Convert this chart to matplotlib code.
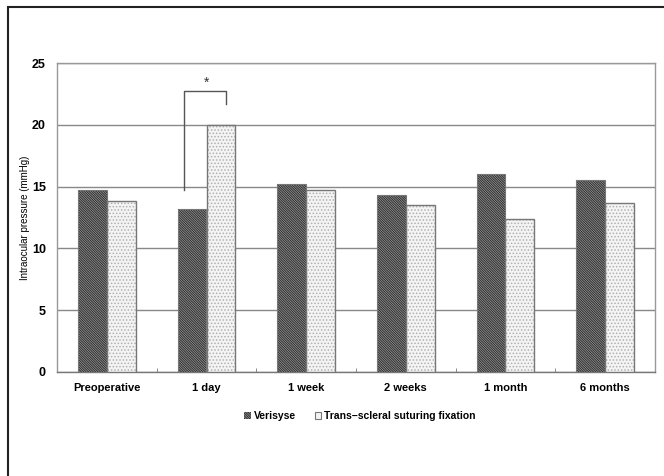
import matplotlib
matplotlib.use("Agg")
import matplotlib.pyplot as plt
import numpy as np
from matplotlib.patches import Rectangle, Patch

categories = ["Preoperative", "1 day", "1 week", "2 weeks", "1 month", "6 months"]
verisyse = [14.7, 13.2, 15.2, 14.3, 16.0, 15.5]
trans_scleral = [13.8, 20.0, 14.7, 13.5, 12.4, 13.7]
series_names = ["Verisyse", "Trans\u2212scleral suturing fixation"]
yticks = [0, 5, 10, 15, 20, 25]

plt.rcParams['font.family'] = ['Liberation Sans', 'DejaVu Sans']
plt.rcParams['hatch.linewidth'] = 0.7

dense = '\\' * 14

fig = plt.figure(figsize=(6.64, 4.76), dpi=100)
# outer frame
fig.patches.append(Rectangle((8/664, -0.1), 1.2, 1 - 7/476 + 0.1, transform=fig.transFigure,
                             fill=False, edgecolor='#222222', linewidth=1.5))

ax = fig.add_axes([57/664, 1 - 372/476, 598/664, (372 - 63)/476])
x = np.arange(len(categories))
w = 0.29

# Verisyse: dense diagonal hatch
ax.bar(x - w/2, verisyse, w, color='#9a9a9a', edgecolor='#2e2e2e', hatch=dense, linewidth=0, zorder=3)
ax.bar(x - w/2, verisyse, w, fill=False, edgecolor='#777777', linewidth=0.8, zorder=4)
# Trans-scleral: dotted
ax.bar(x + w/2, trans_scleral, w, color='#f4f4f4', edgecolor='#b0b0b0', hatch='.....', linewidth=0, zorder=3)
ax.bar(x + w/2, trans_scleral, w, fill=False, edgecolor='#777777', linewidth=1.0, zorder=4)

ax.set_xlim(-0.5, len(categories) - 0.5)
ax.set_ylim(0, 25)
ax.set_yticks(yticks)
ax.set_yticklabels([str(t) for t in yticks], fontweight='bold', fontsize=9)
ax.set_xticks(x)
ax.set_xticklabels(categories, fontweight='bold', fontsize=8)
ax.tick_params(axis='both', length=0, pad=8)
ax.set_xticks(np.arange(0.5, len(categories) - 1, 1), minor=True)
ax.tick_params(axis='x', which='minor', direction='in', length=3, color='#777777')
ax.yaxis.grid(True, color='#888888', linewidth=1.0, zorder=0)
ax.set_axisbelow(True)
for s in ax.spines.values():
    s.set_color('#999999')
    s.set_linewidth(1.0)
ax.spines['bottom'].set_color('#777777')
ax.set_ylabel("Intraocular pressure (mmHg)", fontsize=7, labelpad=1)

# significance bracket
xl = 1 - 0.23
xr = 1 + 0.20
ax.plot([xl, xl, xr, xr], [14.7, 22.7, 22.7, 21.7], color='#555555', linewidth=1.0, zorder=5, clip_on=False)
ax.text((xl + xr) / 2 + 0.02, 22.85, "*", ha='center', va='bottom', fontsize=10, color='#333333')

# legend
handles = [Patch(facecolor='#9a9a9a', edgecolor='#2e2e2e', hatch=dense, linewidth=0),
           Patch(facecolor='#f4f4f4', edgecolor='#777777', linewidth=0.8)]
fig.legend(handles, series_names, loc='center', bbox_to_anchor=(360/664, 1 - 416/476), ncol=2,
           frameon=False, prop={'weight': 'bold', 'size': 7.5}, handlelength=0.6, handleheight=0.6,
           handletextpad=0.3, columnspacing=1.8)

fig.savefig("out.png", dpi=100)
